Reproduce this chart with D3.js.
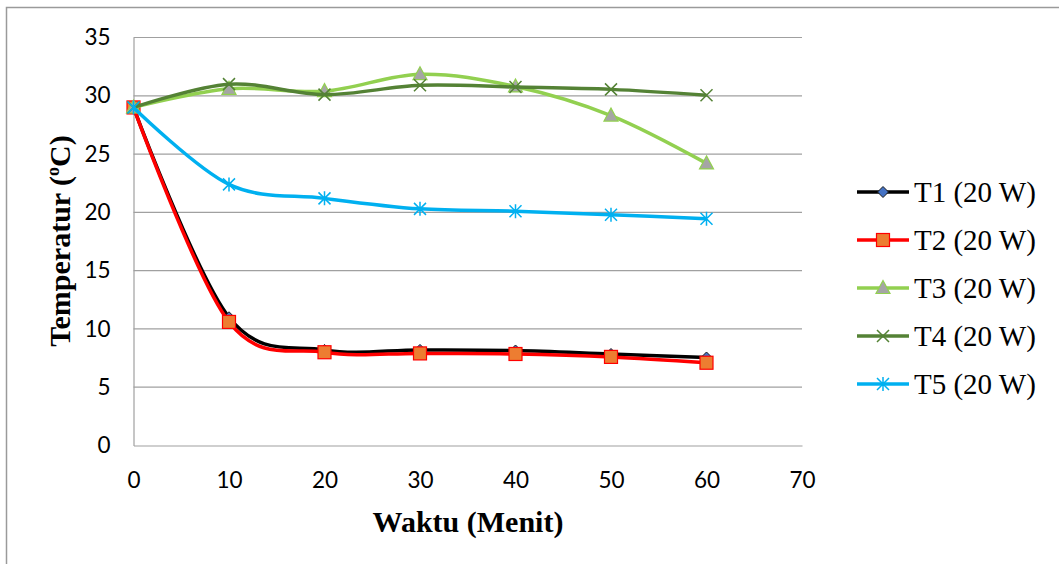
<!DOCTYPE html>
<html>
<head>
<meta charset="utf-8">
<script src="https://cdn.jsdelivr.net/npm/d3@7"></script>
<style>
  html, body { margin: 0; padding: 0; background: #fff; }
  svg { display: block; }
</style>
</head>
<body>
<svg id="chart" width="1059" height="564"></svg>
<script>
// Time (minutes) on the x axis
const waktu = [0, 10, 20, 30, 40, 50, 60];

// Temperature readings (°C) for each sensor at 20 W
const t1 = [29, 11.0, 8.2, 8.2, 8.15, 7.85, 7.55];
const t2 = [29, 10.6, 8.0, 7.9, 7.85, 7.6, 7.1];
const t3 = [29, 30.6, 30.4, 31.85, 30.8, 28.3, 24.2];
const t4 = [29, 31.0, 30.1, 30.9, 30.75, 30.55, 30.05];
const t5 = [29, 22.4, 21.2, 20.3, 20.1, 19.8, 19.45];

const seriesNames = ["T1 (20 W)", "T2 (20 W)", "T3 (20 W)", "T4 (20 W)", "T5 (20 W)"];
const xTicks = [0, 10, 20, 30, 40, 50, 60, 70];
const yTicks = [0, 5, 10, 15, 20, 25, 30, 35];

const svg = d3.select("#chart");

// outer frame of the chart area
svg.append("path")
  .attr("d", "M6.5,570 V7.5 H1065")
  .attr("fill", "none")
  .attr("stroke", "#9a9a9a")
  .attr("stroke-width", 1.5);

const x = d3.scaleLinear().domain([0, 70]).range([133.5, 802]);
const y = d3.scaleLinear().domain([0, 35]).range([445.5, 37.5]);

// horizontal gridlines
svg.append("g")
  .selectAll("line")
  .data(yTicks.filter(v => v > 0))
  .join("line")
  .attr("x1", x(0)).attr("x2", x(70))
  .attr("y1", d => y(d)).attr("y2", d => y(d))
  .attr("stroke", "#a0a0a0")
  .attr("stroke-width", 1.2);

// axes
const tickFont = "Lato, 'Open Sans', sans-serif";
const yAxis = svg.append("g")
  .attr("transform", `translate(${x(0)},0)`)
  .call(d3.axisLeft(y).tickValues(yTicks).tickSize(0).tickPadding(23));
const xAxis = svg.append("g")
  .attr("transform", `translate(0,${y(0)})`)
  .call(d3.axisBottom(x).tickValues(xTicks).tickSize(0).tickPadding(27));
[xAxis, yAxis].forEach(a => {
  a.select(".domain").attr("stroke", "#a0a0a0").attr("stroke-width", 1.2);
  a.selectAll("text")
    .attr("font-family", tickFont)
    .attr("font-size", 22.5)
    .attr("fill", "#000");
});

// axis titles
svg.append("text")
  .attr("x", 468).attr("y", 532)
  .attr("text-anchor", "middle")
  .attr("font-family", "'Liberation Serif', 'Times New Roman', serif")
  .attr("font-weight", "bold")
  .attr("font-size", 30)
  .text("Waktu (Menit)");

const yTitle = svg.append("text")
  .attr("transform", "translate(70,241) rotate(-90)")
  .attr("text-anchor", "middle")
  .attr("font-family", "'Liberation Serif', 'Times New Roman', serif")
  .attr("font-weight", "bold")
  .attr("font-size", 30);
yTitle.append("tspan").text("Temperatur (");
yTitle.append("tspan").attr("font-size", 18).attr("dy", -11).text("o");
yTitle.append("tspan").attr("dy", 11).text("C)");

// marker shapes
function drawMarker(g, kind, stroke) {
  if (kind === "diamond") {
    g.append("path").attr("d", "M0,-5.5 L5.5,0 L0,5.5 L-5.5,0 Z")
      .attr("fill", "#4472c4").attr("stroke", "#1a1a1a").attr("stroke-width", 1);
  } else if (kind === "square") {
    g.append("rect").attr("x", -6.5).attr("y", -6.5).attr("width", 13).attr("height", 13)
      .attr("fill", "#ed7d31").attr("stroke", "#ff0000").attr("stroke-width", 1.2);
  } else if (kind === "triangle") {
    g.append("path").attr("d", "M0,-7.5 L7,5.5 L-7,5.5 Z")
      .attr("fill", "#a5a5a5").attr("stroke", "#92d050").attr("stroke-width", 1.2);
  } else if (kind === "times") {
    g.append("path").attr("d", "M-6,-6 L6,6 M-6,6 L6,-6")
      .attr("stroke", stroke).attr("stroke-width", 1.5).attr("fill", "none");
  } else if (kind === "asterisk") {
    g.append("path").attr("d", "M-6,-6 L6,6 M-6,6 L6,-6 M0,-7 L0,7")
      .attr("stroke", stroke).attr("stroke-width", 1.5).attr("fill", "none");
  }
}

const series = [
  { name: seriesNames[0], values: t1, color: "#000000", marker: "diamond", mstroke: "#000" },
  { name: seriesNames[1], values: t2, color: "#ff0000", marker: "square", mstroke: "#ff0000" },
  { name: seriesNames[2], values: t3, color: "#92d050", marker: "triangle", mstroke: "#92d050" },
  { name: seriesNames[3], values: t4, color: "#548235", marker: "times", mstroke: "#548235" },
  { name: seriesNames[4], values: t5, color: "#00b0f0", marker: "asterisk", mstroke: "#00b0f0" }
];

const line = d3.line()
  .x((d, i) => x(waktu[i]))
  .y(d => y(d))
  .curve(d3.curveCardinal.tension(0));

series.forEach(s => {
  const g = svg.append("g");
  g.append("path")
    .attr("d", line(s.values))
    .attr("fill", "none")
    .attr("stroke", s.color)
    .attr("stroke-width", 3.5)
    .attr("stroke-linejoin", "round");
  s.values.forEach((v, i) => {
    drawMarker(g.append("g").attr("transform", `translate(${x(waktu[i])},${y(v)})`), s.marker, s.mstroke);
  });
});

// legend
const legend = svg.append("g");
series.forEach((s, i) => {
  const cy = 192 + i * 48;
  const g = legend.append("g");
  g.append("line")
    .attr("x1", 857).attr("x2", 909)
    .attr("y1", cy).attr("y2", cy)
    .attr("stroke", s.color).attr("stroke-width", 3.5);
  drawMarker(g.append("g").attr("transform", `translate(883,${cy})`), s.marker, s.mstroke);
  g.append("text")
    .attr("x", 914).attr("y", cy + 10)
    .attr("font-family", "'Liberation Serif', 'Times New Roman', serif")
    .attr("font-size", 29)
    .text(s.name);
});
</script>
</body>
</html>
